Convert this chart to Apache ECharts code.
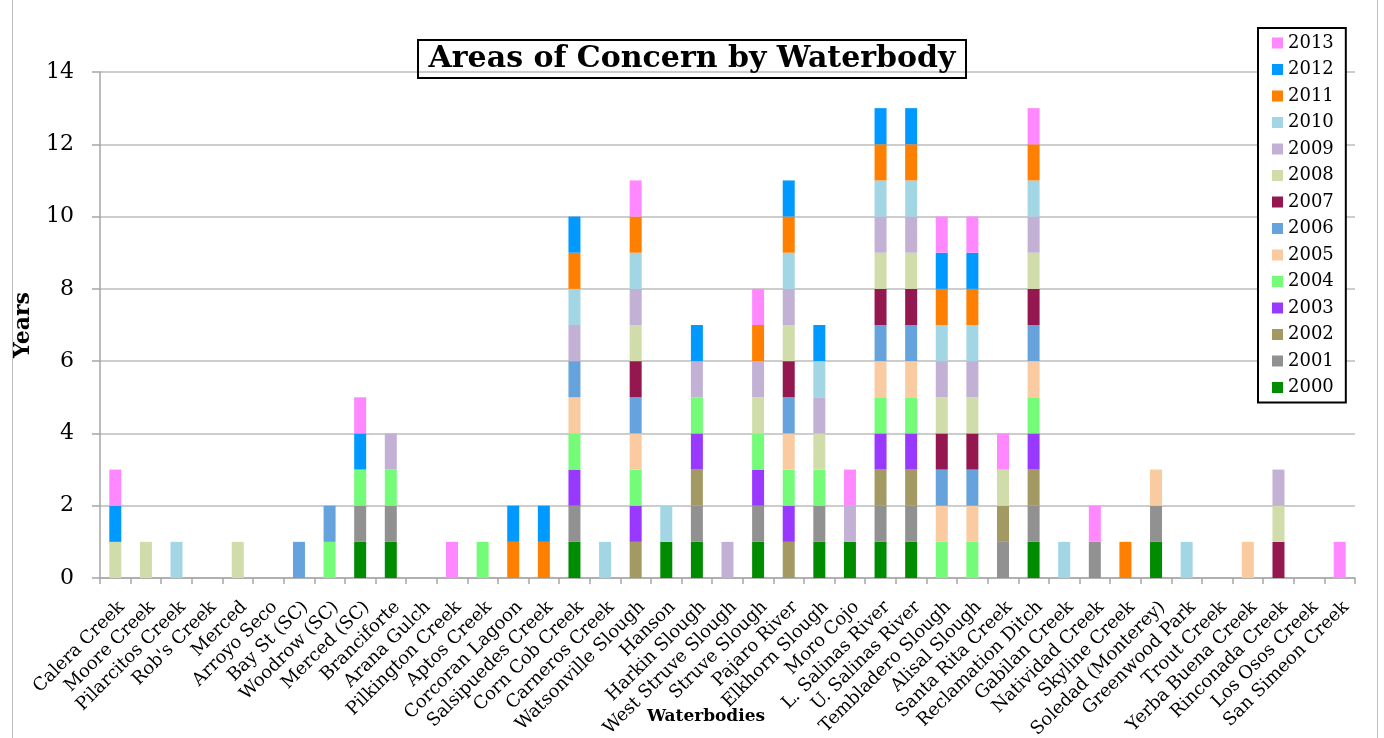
<!DOCTYPE html>
<html>
<head>
<meta charset="utf-8">
<script src="https://cdn.jsdelivr.net/npm/echarts@6/dist/echarts.min.js"></script>
<style>
html,body{margin:0;padding:0;background:#fff;}
#chart{width:1384px;height:738px;}
</style>
</head>
<body>
<div id="chart"></div>
<script>
const categories = ["Calera Creek","Moore Creek","Pilarcitos Creek","Rob's Creek","Merced","Arroyo Seco","Bay St (SC)","Woodrow (SC)","Merced (SC)","Branciforte","Arana Gulch","Pilkington Creek","Aptos Creek","Corcoran Lagoon","Salsipuedes Creek","Corn Cob Creek","Carneros Creek","Watsonville Slough","Hanson","Harkin Slough","West Struve Slough","Struve Slough","Pajaro River","Elkhorn Slough","Moro Cojo","L. Salinas River","U. Salinas River","Tembladero Slough","Alisal Slough","Santa Rita Creek","Reclamation Ditch","Gabilan Creek","Natividad Creek","Skyline Creek","Soledad (Monterey)","Greenwood Park","Trout Creek","Yerba Buena Creek","Rinconada Creek","Los Osos Creek","San Simeon Creek"];

const years = ["2000","2001","2002","2003","2004","2005","2006","2007","2008","2009","2010","2011","2012","2013"];

const y2000 = [0,0,0,0,0,0,0,0,1,1, 0,0,0,0,0,1,0,0,1,1, 0,1,0,1,1,1,1,0,0,0, 1,0,0,0,1,0,0,0,0,0, 0];
const y2001 = [0,0,0,0,0,0,0,0,1,1, 0,0,0,0,0,1,0,0,0,1, 0,1,0,1,0,1,1,0,0,1, 1,0,1,0,1,0,0,0,0,0, 0];
const y2002 = [0,0,0,0,0,0,0,0,0,0, 0,0,0,0,0,0,0,1,0,1, 0,0,1,0,0,1,1,0,0,1, 1,0,0,0,0,0,0,0,0,0, 0];
const y2003 = [0,0,0,0,0,0,0,0,0,0, 0,0,0,0,0,1,0,1,0,1, 0,1,1,0,0,1,1,0,0,0, 1,0,0,0,0,0,0,0,0,0, 0];
const y2004 = [0,0,0,0,0,0,0,1,1,1, 0,0,1,0,0,1,0,1,0,1, 0,1,1,1,0,1,1,1,1,0, 1,0,0,0,0,0,0,0,0,0, 0];
const y2005 = [0,0,0,0,0,0,0,0,0,0, 0,0,0,0,0,1,0,1,0,0, 0,0,1,0,0,1,1,1,1,0, 1,0,0,0,1,0,0,1,0,0, 0];
const y2006 = [0,0,0,0,0,0,1,1,0,0, 0,0,0,0,0,1,0,1,0,0, 0,0,1,0,0,1,1,1,1,0, 1,0,0,0,0,0,0,0,0,0, 0];
const y2007 = [0,0,0,0,0,0,0,0,0,0, 0,0,0,0,0,0,0,1,0,0, 0,0,1,0,0,1,1,1,1,0, 1,0,0,0,0,0,0,0,1,0, 0];
const y2008 = [1,1,0,0,1,0,0,0,0,0, 0,0,0,0,0,0,0,1,0,0, 0,1,1,1,0,1,1,1,1,1, 1,0,0,0,0,0,0,0,1,0, 0];
const y2009 = [0,0,0,0,0,0,0,0,0,1, 0,0,0,0,0,1,0,1,0,1, 1,1,1,1,1,1,1,1,1,0, 1,0,0,0,0,0,0,0,1,0, 0];
const y2010 = [0,0,1,0,0,0,0,0,0,0, 0,0,0,0,0,1,1,1,1,0, 0,0,1,1,0,1,1,1,1,0, 1,1,0,0,0,1,0,0,0,0, 0];
const y2011 = [0,0,0,0,0,0,0,0,0,0, 0,0,0,1,1,1,0,1,0,0, 0,1,1,0,0,1,1,1,1,0, 1,0,0,1,0,0,0,0,0,0, 0];
const y2012 = [1,0,0,0,0,0,0,0,1,0, 0,0,0,1,1,1,0,0,0,1, 0,0,1,1,0,1,1,1,1,0, 0,0,0,0,0,0,0,0,0,0, 0];
const y2013 = [1,0,0,0,0,0,0,0,1,0, 0,1,0,0,0,0,0,1,0,0, 0,1,0,0,1,0,0,1,1,1, 1,0,1,0,0,0,0,0,0,0, 1];

const yearValues = [y2000,y2001,y2002,y2003,y2004,y2005,y2006,y2007,y2008,y2009,y2010,y2011,y2012,y2013];
const yearColors = ["#008C00","#919191","#A39963","#9939FF","#74FC78","#FACBA0","#66A3DD","#95174F","#D0DDAA","#C2B1D4","#A3D6E4","#FF7F00","#0099FF","#FF88FF"];

const yTicks = [0,2,4,6,8,10,12,14];

const FONT = "'DejaVu Serif', 'Liberation Serif', serif";

const chart = echarts.init(document.getElementById('chart'));

const series = years.map((y, i) => ({
  name: y,
  type: 'bar',
  stack: 'total',
  barWidth: 12,
  data: yearValues[i],
  itemStyle: { color: yearColors[i] },
  emphasis: { disabled: true }
}));

chart.setOption({
  animation: false,
  backgroundColor: '#ffffff',
  title: {
    text: 'Areas of Concern by Waterbody',
    left: 'center',
    top: 40,
    padding: [4, 11, 4, 11],
    borderColor: '#000',
    borderWidth: 2,
    textStyle: { fontFamily: FONT, fontWeight: 'bold', fontSize: 30, color: '#000' }
  },
  legend: {
    orient: 'vertical',
    left: 1258,
    top: 28,
    padding: [6, 12, 6, 14],
    borderColor: '#000',
    borderWidth: 2,
    backgroundColor: '#fff',
    itemWidth: 11,
    itemHeight: 11,
    itemGap: 8.5,
    icon: 'rect',
    data: years.slice().reverse(),
    textStyle: { fontFamily: FONT, fontSize: 18, color: '#000', lineHeight: 18, padding: [0,0,0,0] }
  },
  grid: { left: 100, right: 29, top: 72, bottom: 160, containLabel: false, outerBoundsMode: 'none' },
  xAxis: {
    type: 'category',
    data: categories,
    axisLine: { lineStyle: { color: '#A6A6A6', width: 1.5 } },
    axisTick: { show: true, length: 6, lineStyle: { color: '#A6A6A6', width: 1.5 } },
    axisLabel: { rotate: 45, interval: 0, margin: 20, align: 'right', verticalAlign: 'top',
      fontFamily: FONT, fontSize: 18, color: '#000' }
  },
  yAxis: {
    type: 'value',
    min: 0,
    max: 14,
    interval: 2,
    name: 'Years',
    nameLocation: 'middle',
    nameGap: 66,
    nameTextStyle: { fontFamily: FONT, fontWeight: 'bold', fontSize: 22, color: '#000' },
    axisLine: { show: true, lineStyle: { color: '#A6A6A6', width: 1.5 } },
    axisTick: { show: true, length: 8, lineStyle: { color: '#A6A6A6', width: 1.5 } },
    axisLabel: { margin: 26, fontFamily: FONT, fontSize: 22, color: '#000',
      formatter: v => yTicks.includes(v) ? String(v) : '' },
    splitLine: { lineStyle: { color: '#BDBDBD', width: 1.5 } }
  },
  graphic: [
    { type: 'text', x: 706, y: 717, style: { text: 'Waterbodies', font: "bold 17px " + FONT, fill: '#000', align: 'center', verticalAlign: 'middle' } },
    { type: 'line', shape: { x1: 12.5, y1: 0, x2: 12.5, y2: 738 }, style: { stroke: '#BFBFBF', lineWidth: 1 } },
    { type: 'line', shape: { x1: 1377.5, y1: 0, x2: 1377.5, y2: 738 }, style: { stroke: '#BFBFBF', lineWidth: 1 } }
  ],
  series: series
});
</script>
</body>
</html>
